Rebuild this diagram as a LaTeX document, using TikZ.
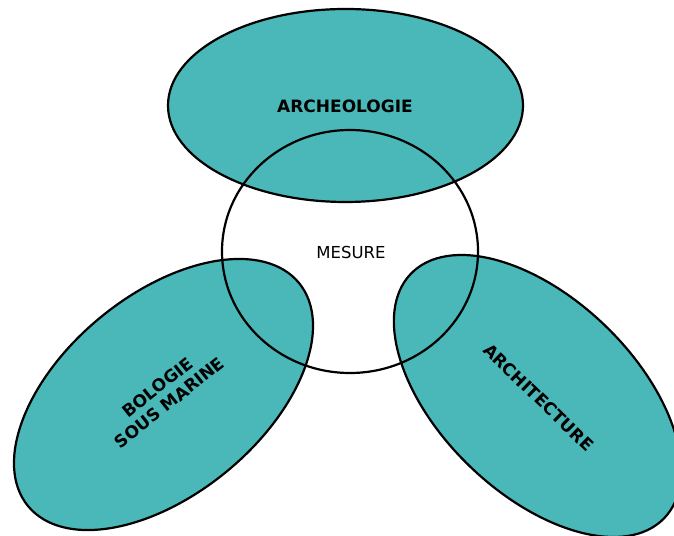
\documentclass[tikz,border=0pt]{standalone}
\usepackage{fontspec}
\setmainfont{DejaVu Sans}
\definecolor{tealfill}{HTML}{4AB8B8}
\begin{document}
\begin{tikzpicture}[x=1pt,y=1pt,
  outline/.style={draw=black,line width=2.2pt},
  blob/.style={fill=tealfill},
  boldlabel/.style={font=\fontsize{17}{19.5}\selectfont\bfseries,align=center,inner sep=0pt},
  plainlabel/.style={font=\fontsize{16.5}{20}\selectfont,inner sep=0pt}]
\useasboundingbox (0,0) rectangle (674,535);
\clip (0,0) rectangle (674,535);
% centres
\coordinate (ctop) at (345.5,429.5);
\coordinate (cmid) at (350,283.5);
\coordinate (cleft) at (163.5,140.5);
\coordinate (cright) at (537.5,139);
% fills
\fill[white] (cmid) ellipse (128pt and 121.5pt);
\path[blob] (ctop) ellipse (177.5pt and 96.5pt);
\path[blob,rotate around={39.5:(cleft)}] (cleft) ellipse (175.5pt and 99.6pt);
\path[blob,rotate around={-44:(cright)}] (cright) ellipse (176pt and 97.6pt);
% outlines
\path[outline] (ctop) ellipse (177.5pt and 96.5pt);
\path[outline,rotate around={39.5:(cleft)}] (cleft) ellipse (175.5pt and 99.6pt);
\path[outline,rotate around={-44:(cright)}] (cright) ellipse (176pt and 97.6pt);
\path[outline] (cmid) ellipse (128pt and 121.5pt);
% labels
\node[boldlabel] (archeo) at (345,429) {ARCHEOLOGIE};
\node[plainlabel] (mesure) at (351,283) {MESURE};
\node[boldlabel,rotate=38.5] (bio) at (163.5,140) {BOLOGIE\\SOUS MARINE};
\node[boldlabel,rotate=-44] (archi) at (538.5,137.5) {ARCHITECTURE};
\end{tikzpicture}
\end{document}
